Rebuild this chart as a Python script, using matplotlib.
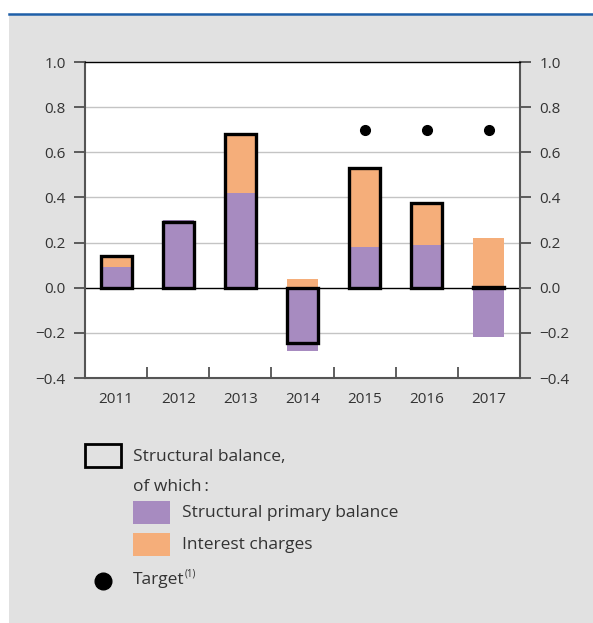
import numpy as np
import matplotlib
matplotlib.use("Agg")
import matplotlib.pyplot as plt
from matplotlib.patches import Rectangle
from matplotlib.lines import Line2D

# data
years = ["2011", "2012", "2013", "2014", "2015", "2016", "2017"]
primary = [0.09, 0.30, 0.42, -0.28, 0.18, 0.19, -0.22]
interest = [0.05, -0.01, 0.26, 0.04, 0.35, 0.18, 0.22]
structural = [0.14, 0.29, 0.68, -0.245, 0.53, 0.375, 0.005]
target_years = [4, 5, 6]
target = [0.70, 0.70, 0.70]

PURPLE = "#a78bc0"
ORANGE = "#f5ae7a"
TXT = "#333333"
W, H = 593, 623

plt.rcParams["font.family"] = ["Open Sans", "DejaVu Sans"]

fig = plt.figure(figsize=(W / 100, H / 100), dpi=100)
fig.patch.set_facecolor("white")


def fx(x):
    return x / W


def fy(y):
    return 1 - y / H


# gray panel and blue rule on top
fig.patches.append(Rectangle((fx(9), 0), 1 - fx(9), fy(15), transform=fig.transFigure,
                             facecolor="#e1e1e1", edgecolor="none", zorder=-5))
fig.lines.append(Line2D([fx(9), 1], [fy(14), fy(14)], transform=fig.transFigure,
                        color="#1f5fa8", lw=1.8, zorder=-4))

ax = fig.add_axes([fx(85), fy(378), fx(520) - fx(85), fy(62) - fy(378)])
ax.set_facecolor("white")

x = np.arange(len(years))
prim = np.array(primary)
intr = np.array(interest)
bottom_int = np.where(np.sign(prim) == np.sign(intr), prim, 0)

bw = 0.5
ax.bar(x, prim, width=bw, color=PURPLE, zorder=2)
ax.bar(x, intr, width=bw, bottom=bottom_int, color=ORANGE, zorder=2)
ax.bar(x, structural, width=bw, facecolor="none", edgecolor="black", linewidth=2.4, zorder=3)
ax.plot(target_years, target, "o", color="black", markersize=7, zorder=4)

ax.set_xlim(-0.5, 6.5)
ax.set_ylim(-0.4, 1.0)
yt = np.arange(-0.4, 1.01, 0.2)
ax.set_yticks(yt)
ax.set_yticklabels([f"{v:.1f}".replace("-", "\u2212") for v in yt])
for v in yt:
    if abs(v) > 1e-9 and v < 0.99 and v > -0.39:
        ax.axhline(v, color="#c4c4c4", lw=1.0, zorder=1)
ax.axhline(0, color="black", lw=1.0, zorder=1.5)

ax.tick_params(axis="y", which="both", direction="out", length=8, width=1.2, color="#444444",
               labelsize=11, labelcolor=TXT, left=True, right=True, labelleft=True,
               labelright=True, pad=6)

# x: boundary ticks inward, year labels at centres
ax.set_xticks(np.arange(0.5, 6.0, 1.0))
ax.set_xticklabels([])
ax.tick_params(axis="x", which="major", direction="in", length=8, width=1.2, color="#444444")
ax.set_xticks(x, minor=True)
ax.set_xticklabels(years, minor=True)
ax.tick_params(axis="x", which="minor", length=0, labelsize=11, labelcolor=TXT, pad=10)

for s in ["left", "right", "bottom"]:
    ax.spines[s].set_color("#555555")
    ax.spines[s].set_linewidth(1.5)
ax.spines["top"].set_color("black")
ax.spines["top"].set_linewidth(1.0)

# legend drawn by hand
FS = 12.5
fig.patches.append(Rectangle((fx(85), fy(467)), fx(121) - fx(85), fy(444) - fy(467),
                             transform=fig.transFigure, facecolor="none",
                             edgecolor="black", lw=2.0))
fig.text(fx(133), fy(457), "Structural balance,", fontsize=FS, color=TXT, va="center")
fig.text(fx(133), fy(487), "of which\u2009:", fontsize=FS, color=TXT, va="center")
fig.patches.append(Rectangle((fx(133), fy(524)), fx(170) - fx(133), fy(501) - fy(524),
                             transform=fig.transFigure, facecolor=PURPLE, edgecolor="none"))
fig.text(fx(182), fy(513), "Structural primary balance", fontsize=FS, color=TXT, va="center")
fig.patches.append(Rectangle((fx(133), fy(556)), fx(170) - fx(133), fy(533) - fy(556),
                             transform=fig.transFigure, facecolor=ORANGE, edgecolor="none"))
fig.text(fx(182), fy(545), "Interest charges", fontsize=FS, color=TXT, va="center")
fig.lines.append(Line2D([fx(103)], [fy(581)], transform=fig.transFigure, marker="o",
                        color="black", markersize=12, linestyle="none"))
fig.text(fx(133), fy(580), "Target", fontsize=FS, color=TXT, va="center")
fig.text(fx(185), fy(574), "(1)", fontsize=7, color=TXT, va="center")

fig.savefig("out.png", dpi=100)
